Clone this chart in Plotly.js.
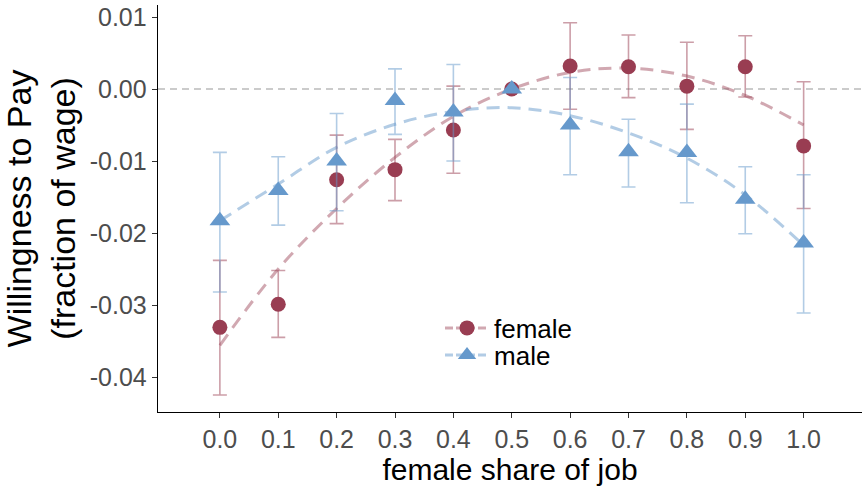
<!DOCTYPE html>
<html>
<head>
<meta charset="utf-8">
<script src="https://cdn.plot.ly/plotly-3.0.1.min.js"></script>
<style>html,body{margin:0;padding:0;background:#fff;}#chart{width:867px;height:492px;}</style>
</head>
<body>
<div id="chart"></div>
<script>
const shares = [0.0, 0.1, 0.2, 0.3, 0.4, 0.5, 0.6, 0.7, 0.8, 0.9, 1.0];
const tickLabels = ["0.0","0.1","0.2","0.3","0.4","0.5","0.6","0.7","0.8","0.9","1.0"];

const femaleWTP   = [-0.0331, -0.0299, -0.0126, -0.0112, -0.0057, 0.0000, 0.0032, 0.0031, 0.0004, 0.0031, -0.0079];
const femaleUpper = [-0.0238, -0.0252, -0.0064, -0.0070, 0.0004, 0.0000, 0.0092, 0.0075, 0.0065, 0.0074, 0.0010];
const femaleLower = [-0.0425, -0.0345, -0.0187, -0.0155, -0.0117, 0.0000, -0.0028, -0.0012, -0.0056, -0.0011, -0.0166];
const femaleFit   = [-0.0356, -0.0250, -0.0166, -0.0095, -0.0038, 0.0000, 0.0023, 0.0029, 0.0018, -0.0009, -0.0050];

const maleWTP   = [-0.0183, -0.0141, -0.0100, -0.0016, -0.0032, 0.0000, -0.0050, -0.0087, -0.0088, -0.0153, -0.0214];
const maleUpper = [-0.0088, -0.0094, -0.0034, 0.0028, 0.0034, 0.0000, 0.0016, -0.0042, -0.0021, -0.0108, -0.0119];
const maleLower = [-0.0282, -0.0189, -0.0169, -0.0063, -0.0100, 0.0000, -0.0119, -0.0136, -0.0158, -0.0201, -0.0311];
const maleFit   = [-0.0183, -0.0132, -0.0081, -0.0049, -0.0031, -0.0026, -0.0037, -0.0061, -0.0096, -0.0147, -0.0217];

const femaleCol = '#993D52', femaleErr = 'rgba(153,61,82,0.5)', femaleLine = 'rgba(153,61,82,0.45)';
const maleCol = '#6699CC', maleErr = 'rgba(102,153,204,0.5)', maleLine = 'rgba(102,153,204,0.5)';

const errPlus = (up, v) => up.map((u, i) => u - v[i]);
const errMinus = (lo, v) => lo.map((l, i) => v[i] - l);
const dashPat = '13px,8px';

const traces = [
  {x: shares, y: femaleFit, mode: 'lines', line: {color: femaleLine, width: 3, dash: dashPat, shape: 'spline'}, showlegend: false, hoverinfo: 'skip'},
  {x: shares, y: maleFit, mode: 'lines', line: {color: maleLine, width: 3, dash: dashPat, shape: 'spline'}, showlegend: false, hoverinfo: 'skip'},
  {x: shares, y: femaleWTP, mode: 'markers', showlegend: false,
   marker: {symbol: 'circle', size: 15, color: femaleCol},
   error_y: {type: 'data', symmetric: false, array: errPlus(femaleUpper, femaleWTP), arrayminus: errMinus(femaleLower, femaleWTP), color: femaleErr, thickness: 1.6, width: 7}},
  {x: shares, y: maleWTP, mode: 'markers', showlegend: false,
   marker: {symbol: 'triangle-up', size: 18, color: maleCol},
   error_y: {type: 'data', symmetric: false, array: errPlus(maleUpper, maleWTP), arrayminus: errMinus(maleLower, maleWTP), color: maleErr, thickness: 1.6, width: 7}},
  {x: [null], y: [null], name: 'female', legend: 'legend', mode: 'lines+markers', line: {color: femaleLine, width: 3, dash: '8px,3px'}, marker: {symbol: 'circle', size: 15, color: femaleCol}},
  {x: [null], y: [null], name: 'male', legend: 'legend2', mode: 'lines+markers', line: {color: maleLine, width: 3, dash: '8px,3px'}, marker: {symbol: 'triangle-up', size: 18, color: maleCol}}
];

const legendBase = {xanchor: 'left', yanchor: 'middle', bgcolor: 'rgba(0,0,0,0)', font: {size: 26, color: '#000'}, itemwidth: 44};

const layout = {
  width: 867, height: 492,
  margin: {l: 158, r: 5, t: 5, b: 80},
  paper_bgcolor: '#fff', plot_bgcolor: '#fff',
  font: {family: 'Liberation Sans, Arial, sans-serif', color: '#000'},
  showlegend: true,
  legend: Object.assign({x: 0.4006, y: 0.2064}, legendBase),
  legend2: Object.assign({x: 0.4006, y: 0.140}, legendBase),
  xaxis: {
    range: [-0.106, 1.1], tickvals: shares, ticktext: tickLabels,
    showgrid: false, zeroline: false, showline: true, linecolor: '#000', linewidth: 1.3,
    ticks: 'outside', ticklen: 5, tickcolor: '#333', tickwidth: 1,
    tickfont: {size: 25, color: '#4D4D4D'},
    title: {text: 'female share of job', font: {size: 30, color: '#000'}, standoff: 6}
  },
  yaxis: {
    range: [-0.04486, 0.01167], tickvals: [-0.04, -0.03, -0.02, -0.01, 0, 0.01],
    ticktext: ['-0.04', '-0.03', '-0.02', '-0.01', '0.00', '0.01'],
    showgrid: false, zeroline: false, showline: true, linecolor: '#000', linewidth: 1.3,
    ticks: 'outside', ticklen: 5, tickcolor: '#333', tickwidth: 1,
    tickfont: {size: 25, color: '#4D4D4D'},
    title: {text: 'Willingness to Pay<br>(fraction of wage)', font: {size: 34, color: '#000'}, standoff: 8}
  },
  shapes: [{type: 'line', xref: 'paper', x0: 0, x1: 1, yref: 'y', y0: 0, y1: 0, line: {color: '#BBBBBB', width: 1.3, dash: '7px,5px'}, layer: 'below'}]
};

Plotly.newPlot('chart', traces, layout, {displayModeBar: false, staticPlot: true});
</script>
</body>
</html>
